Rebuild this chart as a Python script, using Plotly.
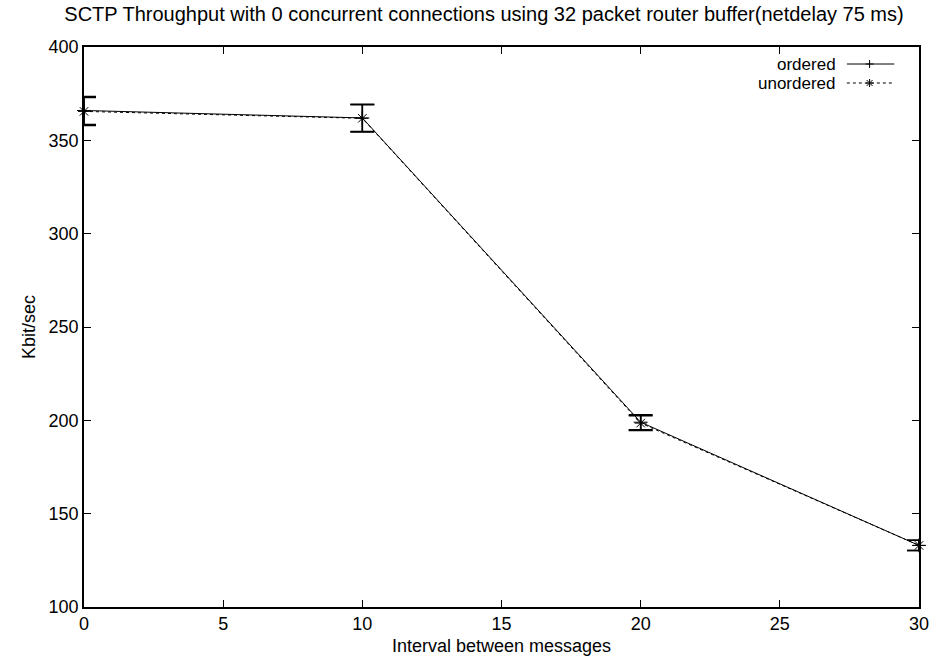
import plotly.graph_objects as go

intervals = [0, 10, 20, 30]
ordered = [366.0, 362.0, 199.0, 133.0]
unordered = [365.5, 361.8, 198.5, 133.0]
err = [7.5, 7.3, 4.0, 2.7]
x_ticks = [0, 5, 10, 15, 20, 25, 30]
y_ticks = [100, 150, 200, 250, 300, 350, 400]

FONT = "Liberation Sans, Arial, Helvetica, sans-serif"
FS = 18
W, H = 940, 664
L, R, T, B = 84, 11, 47, 57
PW, PH = W - L - R, H - T - B

def px(x):
    return (x - L) / PW

def py(y):
    return (H - B - y) / PH

fig = go.Figure()
fig.add_trace(go.Scatter(
    x=intervals, y=ordered, mode="lines+markers", name="ordered",
    line=dict(color="black", width=1),
    marker=dict(symbol="cross-thin", size=10, line=dict(color="black", width=1), color="black"),
    error_y=dict(type="data", array=err, visible=True, color="black", thickness=1.5, width=12),
    showlegend=False, cliponaxis=False,
))
fig.add_trace(go.Scatter(
    x=intervals, y=unordered, mode="lines+markers", name="unordered",
    line=dict(color="black", width=1, dash="dot"),
    marker=dict(symbol="asterisk", size=10, line=dict(color="black", width=1), color="black"),
    error_y=dict(type="data", array=err, visible=True, color="black", thickness=1.5, width=12),
    showlegend=False, cliponaxis=False,
))

shapes = []
annotations = []
legend_rows = [("ordered", 64, "solid", "plus"), ("unordered", 83, "dot", "star")]
for name, yy, dash, mk in legend_rows:
    annotations.append(dict(
        xref="paper", yref="paper", x=px(846), y=py(yy), xanchor="right", yanchor="middle",
        text=name, showarrow=False, font=dict(family=FONT, size=17, color="black"),
        borderpad=0,
    ))
    shapes.append(dict(type="line", xref="paper", yref="paper",
                       x0=px(856), x1=px(904), y0=py(yy), y1=py(yy),
                       line=dict(color="black", width=1, dash=dash)))
    cx, s = 879, 4
    segs = [((cx - s, yy), (cx + s, yy)), ((cx, yy - s), (cx, yy + s))]
    if mk == "star":
        segs += [((cx - 3, yy - 3), (cx + 3, yy + 3)), ((cx - 3, yy + 3), (cx + 3, yy - 3))]
    for (a, b), (c, d) in segs:
        shapes.append(dict(type="line", xref="paper", yref="paper",
                           x0=px(a), x1=px(c), y0=py(b), y1=py(d),
                           line=dict(color="black", width=1)))

fig.update_layout(
    width=W, height=H,
    margin=dict(l=L, r=R, t=T, b=B),
    paper_bgcolor="white", plot_bgcolor="white",
    font=dict(family=FONT, size=FS, color="black"),
    title=dict(text="SCTP Throughput with 0 concurrent connections using 32 packet router buffer(netdelay 75 ms)",
               x=484 / W, xanchor="center", xref="container",
               y=1 - 14 / H, yanchor="middle", yref="container",
               font=dict(family=FONT, size=20, color="black")),
    xaxis=dict(range=[0, 30], tickvals=x_ticks, ticks="inside", ticklen=7, tickwidth=1,
               tickcolor="black", showline=True, linecolor="black", linewidth=1.5,
               mirror="ticks", showgrid=False, zeroline=False,
               tickfont=dict(family=FONT, size=FS),
               title=dict(text="Interval between messages", standoff=6,
                          font=dict(family=FONT, size=FS))),
    yaxis=dict(range=[100, 400], tickvals=y_ticks, ticks="inside", ticklen=7, tickwidth=1,
               tickcolor="black", showline=True, linecolor="black", linewidth=1.5,
               mirror="ticks", showgrid=False, zeroline=False,
               tickfont=dict(family=FONT, size=FS),
               title=dict(text="Kbit/sec", standoff=8, font=dict(family=FONT, size=FS))),
    shapes=shapes, annotations=annotations,
)
fig.write_html("out.html")
